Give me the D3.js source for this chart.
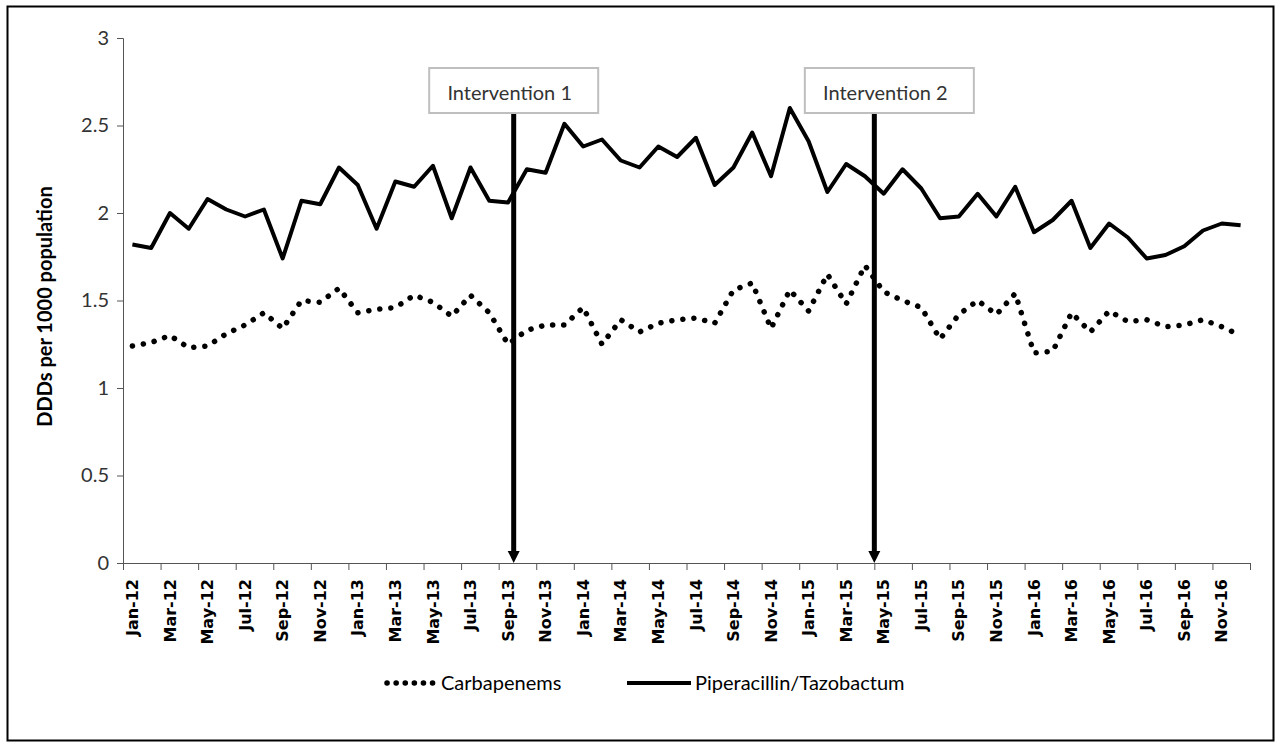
<!DOCTYPE html>
<html>
<head>
<meta charset="utf-8">
<script src="https://cdn.jsdelivr.net/npm/d3@7"></script>
<style>
  body { margin: 0; background: #fff; }
  #chart { width: 1281px; height: 749px; }
</style>
</head>
<body>
<div id="chart"></div>
<script>
// meses (Jan-12 .. Dec-16)
const meses = ["Jan","Feb","Mar","Apr","May","Jun","Jul","Aug","Sep","Oct","Nov","Dec"];
const anos = ["12","13","14","15","16"];
const categorias = anos.flatMap(a => meses.map(m => `${m}-${a}`));

const piperacillin = [
  1.82, 1.80, 2.00, 1.91, 2.08, 2.02, 1.98, 2.02, 1.74, 2.07, 2.05, 2.26,
  2.16, 1.91, 2.18, 2.15, 2.27, 1.97, 2.26, 2.07, 2.06, 2.25, 2.23, 2.51,
  2.38, 2.42, 2.30, 2.26, 2.38, 2.32, 2.43, 2.16, 2.26, 2.46, 2.21, 2.60,
  2.41, 2.12, 2.28, 2.21, 2.11, 2.25, 2.14, 1.97, 1.98, 2.11, 1.98, 2.15,
  1.89, 1.96, 2.07, 1.80, 1.94, 1.86, 1.74, 1.76, 1.81, 1.90, 1.94, 1.93
];

const carbapenems = [
  1.24, 1.26, 1.30, 1.23, 1.24, 1.31, 1.36, 1.43, 1.34, 1.50, 1.49, 1.57,
  1.43, 1.45, 1.46, 1.53, 1.49, 1.41, 1.53, 1.43, 1.25, 1.33, 1.36, 1.36,
  1.46, 1.25, 1.39, 1.32, 1.37, 1.39, 1.40, 1.37, 1.56, 1.60, 1.34, 1.56,
  1.44, 1.65, 1.48, 1.70, 1.55, 1.50, 1.46, 1.28, 1.42, 1.50, 1.42, 1.54,
  1.20, 1.21, 1.43, 1.32, 1.44, 1.38, 1.39, 1.35, 1.36, 1.39, 1.35, 1.30
];

const yTicks = [0, 0.5, 1, 1.5, 2, 2.5, 3];

// intervencoes: posicao em meses desde Jan-12
const intervencoes = [
  { nome: "Intervention 1", mes: 20.8, dx: 0 },
  { nome: "Intervention 2", mes: 40, dx: 15 }
];

const series = [
  { nome: "Carbapenems", valores: carbapenems, tracejado: true },
  { nome: "Piperacillin/Tazobactum", valores: piperacillin, tracejado: false }
];

const width = 1281, height = 749;
const margins = { top: 38, right: 31, bottom: 186, left: 123 };
const fonte = "Lato, 'Open Sans', sans-serif";

const svg = d3.select("#chart")
  .append("svg")
  .attr("width", width)
  .attr("height", height);

// moldura
svg.append("rect")
  .attr("x", 7.5).attr("y", 6.5)
  .attr("width", 1266).attr("height", 734)
  .attr("fill", "none")
  .attr("stroke", "#000")
  .attr("stroke-width", 2);

//Escalas
const xBand = d3.scaleBand()
  .domain(categorias)
  .range([margins.left, width - margins.right]);

const xMes = d3.scaleLinear()
  .domain([0, categorias.length])
  .range([margins.left, width - margins.right]);

const yScale = d3.scaleLinear()
  .domain([0, 3])
  .range([height - margins.bottom, margins.top]);

const x = (d, i) => xBand(categorias[i]) + xBand.bandwidth() / 2;

//Eixos
const eixoY = svg.append("g")
  .attr("transform", `translate(${margins.left}, 0)`)
  .call(d3.axisLeft(yScale).tickValues(yTicks).tickSize(6).tickPadding(8).tickFormat(d => d));
eixoY.select(".domain").attr("stroke", "#555");
eixoY.selectAll(".tick line").attr("stroke", "#555");
eixoY.selectAll("text")
  .attr("font-family", fonte)
  .attr("font-size", "20px")
  .attr("fill", "#333");

const eixoX = svg.append("g")
  .attr("transform", `translate(0, ${height - margins.bottom})`)
  .call(d3.axisBottom(xMes)
    .tickValues(d3.range(0, categorias.length + 1, 2))
    .tickSize(7)
    .tickFormat(""));
eixoX.select(".domain")
  .attr("stroke", "#555")
  .attr("d", `M${margins.left - 6},0.5H${width - margins.right}`);
eixoX.selectAll(".tick line").attr("stroke", "#555");

const rotulosX = svg.append("g")
  .attr("transform", `translate(0, ${height - margins.bottom})`)
  .call(d3.axisBottom(xBand)
    .tickValues(categorias.filter((d, i) => i % 2 === 0))
    .tickSize(0));
rotulosX.select(".domain").remove();
rotulosX.selectAll("text")
  .attr("transform", "rotate(-90)")
  .attr("x", -16)
  .attr("y", 0)
  .attr("dy", "0.35em")
  .attr("text-anchor", "end")
  .attr("font-family", "'DejaVu Sans', sans-serif")
  .attr("font-weight", "bold")
  .attr("font-size", "16px")
  .attr("fill", "#000");

svg.append("text")
  .attr("transform", `translate(45, ${yScale(1.5) + 6}) rotate(-90)`)
  .attr("text-anchor", "middle")
  .attr("dy", "0.35em")
  .attr("font-family", fonte)
  .attr("font-weight", "bold")
  .attr("font-size", "20px")
  .attr("fill", "#000")
  .text("DDDs per 1000 population");

//Linhas
const linha = d3.line()
  .x(x)
  .y(d => yScale(d));

series.forEach(s => {
  svg.append("path")
    .datum(s.valores)
    .attr("fill", "none")
    .attr("stroke", "#000")
    .attr("stroke-width", s.tracejado ? 5.5 : 4)
    .attr("stroke-linecap", s.tracejado ? "round" : "butt")
    .attr("stroke-linejoin", "round")
    .attr("stroke-dasharray", s.tracejado ? "0.1 11" : null)
    .attr("d", linha);
});

//Intervencoes
const boxW = 169, boxH = 45, boxTop = 68;
intervencoes.forEach(iv => {
  const xi = xMes(iv.mes);
  const y0 = yScale(0);
  svg.append("line")
    .attr("x1", xi).attr("x2", xi)
    .attr("y1", boxTop + boxH).attr("y2", y0 - 10)
    .attr("stroke", "#000")
    .attr("stroke-width", 5);
  svg.append("path")
    .attr("d", `M${xi - 6},${y0 - 12}L${xi + 6},${y0 - 12}L${xi},${y0}Z`)
    .attr("fill", "#000");

  const cx = xi + iv.dx;
  svg.append("rect")
    .attr("x", cx - boxW / 2).attr("y", boxTop)
    .attr("width", boxW).attr("height", boxH)
    .attr("fill", "#fff")
    .attr("stroke", "#bfbfbf")
    .attr("stroke-width", 2);
  svg.append("text")
    .attr("x", cx - 4)
    .attr("y", boxTop + 32)
    .attr("text-anchor", "middle")
    .attr("font-family", fonte)
    .attr("font-size", "20px")
    .attr("fill", "#333")
    .text(iv.nome);
});

//Legenda
const legenda = [
  { serie: series[0], x1: 387, x2: 437 },
  { serie: series[1], x1: 627, x2: 691 }
];
const yLeg = 683;
legenda.forEach(l => {
  svg.append("line")
    .attr("x1", l.x1).attr("x2", l.x2)
    .attr("y1", yLeg).attr("y2", yLeg)
    .attr("stroke", "#000")
    .attr("stroke-width", l.serie.tracejado ? 5.5 : 4)
    .attr("stroke-linecap", l.serie.tracejado ? "round" : "butt")
    .attr("stroke-dasharray", l.serie.tracejado ? "0.1 9" : null);
  svg.append("text")
    .attr("x", l.x2 + 4)
    .attr("y", yLeg + 7)
    .attr("font-family", fonte)
    .attr("font-size", "20px")
    .attr("fill", "#000")
    .text(l.serie.nome);
});
</script>
</body>
</html>
